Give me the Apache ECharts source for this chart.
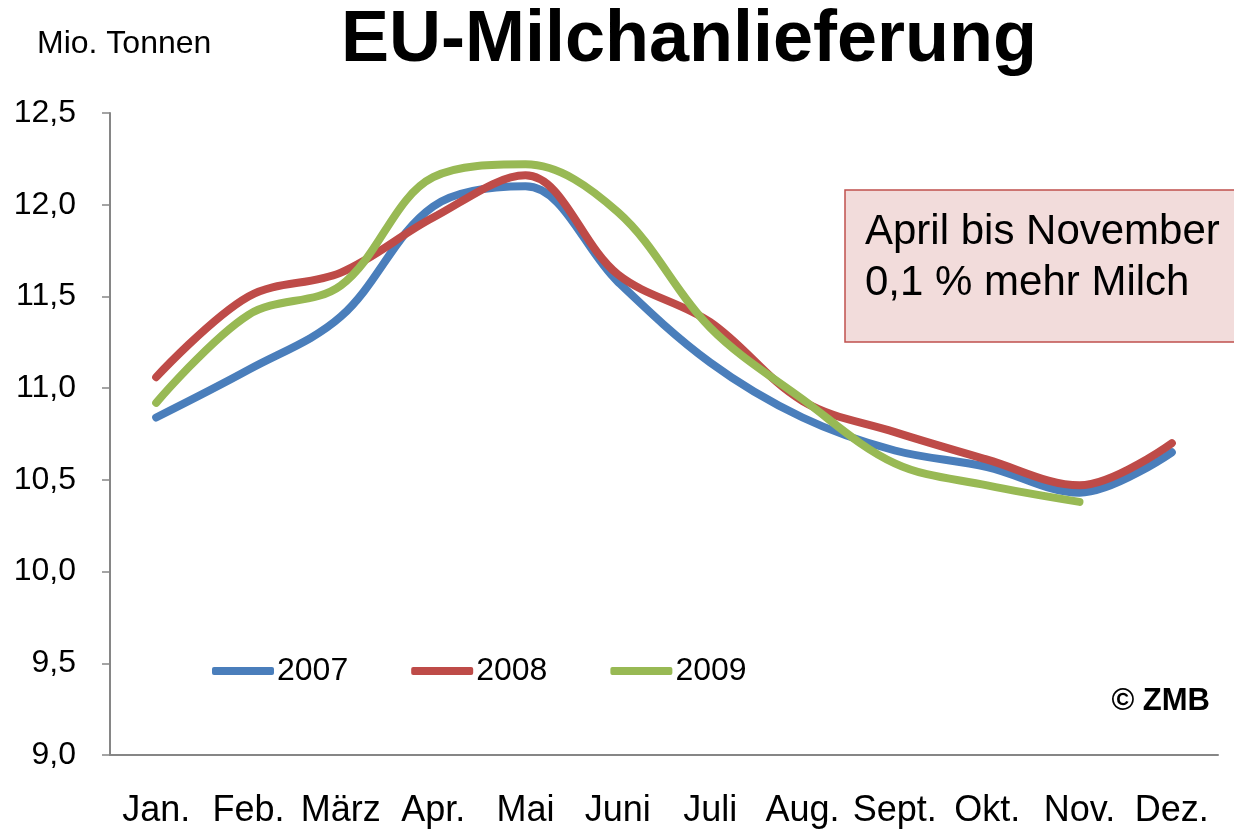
<!DOCTYPE html>
<html><head><meta charset="utf-8">
<script src="https://cdn.jsdelivr.net/npm/echarts@6/dist/echarts.min.js"></script>
<style>html,body{margin:0;padding:0;background:#fff}#c{width:1234px;height:830px}</style>
</head><body><div id="c"></div>
<script>
const months = ['Jan.','Feb.','März','Apr.','Mai','Juni','Juli','Aug.','Sept.','Okt.','Nov.','Dez.'];
const y2007 = [10.84,11.10,11.39,11.99,12.10,11.58,11.14,10.84,10.66,10.57,10.43,10.65];
const y2008 = [11.06,11.50,11.63,11.93,12.16,11.62,11.36,10.93,10.76,10.61,10.47,10.70];
const y2009 = [10.92,11.40,11.56,12.15,12.22,11.96,11.33,10.94,10.59,10.47,10.38];
const yTicks = ['9,0','9,5','10,0','10,5','11,0','11,5','12,0','12,5'];

const chart = echarts.init(document.getElementById('c'));
const font = 'Liberation Sans, Arial, sans-serif';
function ser(name, data, color){
  return {name, type:'line', data, smooth:0.35, symbol:'none',
    lineStyle:{color, width:8, cap:'round', join:'round'}, itemStyle:{color}};
}
chart.setOption({
  animation:false,
  textStyle:{fontFamily:font},
  title:{text:'EU-Milchanlieferung', left:684, top:0, textAlign:'center',
    textStyle:{fontSize:72, fontWeight:'bold', color:'#000', fontFamily:font}},
  grid:{left:110, right:16, top:113, bottom:75},
  legend:{left:207, top:650, itemWidth:62, itemHeight:8, itemGap:63, icon:'roundRect',
    textStyle:{fontSize:32, color:'#000', fontFamily:font, padding:[0,0,0,-2]},
    data:['2007','2008','2009']},
  xAxis:{type:'category', data:months, boundaryGap:true,
    axisLine:{lineStyle:{color:'#868686', width:2}},
    axisTick:{length:12, lineStyle:{color:'#868686', width:1.5}},
    axisLabel:{fontSize:36, color:'#000', margin:38, fontFamily:font, interval:0}},
  yAxis:{type:'value', min:9, max:12.5, interval:0.5,
    axisLine:{show:true, lineStyle:{color:'#868686', width:2}},
    axisTick:{show:true, length:8, lineStyle:{color:'#868686', width:1.5}},
    splitLine:{show:false},
    axisLabel:{fontSize:32, color:'#000', margin:34, fontFamily:font,
      formatter:(v)=>yTicks[Math.round((v-9)/0.5)]}},
  graphic:[
    {type:'text', left:37, top:28, style:{text:'Mio. Tonnen', fontSize:32, fill:'#000', fontFamily:font}},
    {type:'rect', shape:{x:845, y:190, width:395, height:152},
      style:{fill:'#f2dcdb', stroke:'#c0504d', lineWidth:1.5}},
    {type:'text', left:865, top:207, style:{text:'April bis November\n0,1 % mehr Milch',
      fontSize:42, lineHeight:51, fill:'#000', fontFamily:font}},
    {type:'text', right:24, top:686, style:{text:'© ZMB', fontSize:31, fontWeight:'bold', fill:'#000', fontFamily:font}}
  ],
  series:[ser('2007', y2007, '#4a7ebb'), ser('2008', y2008, '#be4b48'), ser('2009', y2009, '#98b954')]
});
</script></body></html>
